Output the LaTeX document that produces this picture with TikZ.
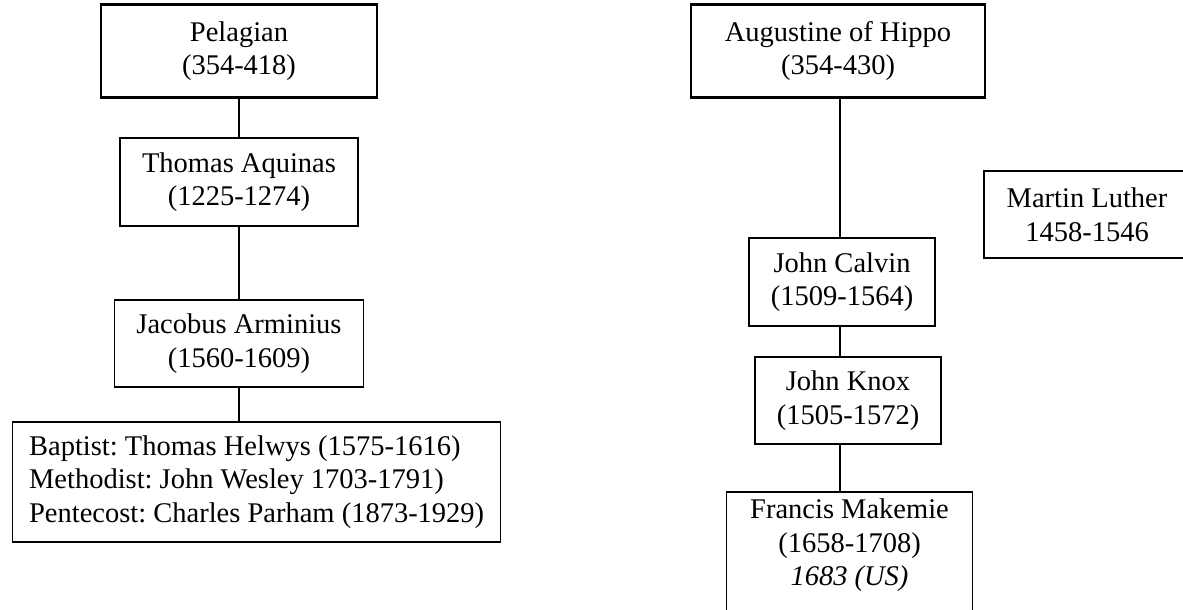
\documentclass[tikz,border=0pt]{standalone}
\usepackage{fontspec}
\setmainfont{Liberation Serif}
\begin{document}
\begin{tikzpicture}[x=1pt,y=-1pt,
  every node/.style={font=\frenchspacing\fontsize{28.5}{33.5}\selectfont, inner sep=0pt, align=center},
  box/.style={draw, line width=1.3pt},
  topbox/.style={draw, line width=2.8pt},
  conn/.style={line width=1.3pt}]
\useasboundingbox (0,0) rectangle (1183,610);
\clip (0,0) rectangle (1183,610);
% left column
\node[topbox, minimum width=276, minimum height=93] (pel) at (239,51) {Pelagian\\(354-418)};
\node[box, minimum width=238, minimum height=88] (tho) at (239,182) {Thomas Aquinas\\(1225-1274)};
\node[box, minimum width=249, minimum height=87] (jac) at (239,343.5) {Jacobus Arminius\\(1560-1609)};
\node[box, minimum width=488, minimum height=120, align=left, anchor=west] (bap) at (12,482)
  {Baptist: Thomas Helwys (1575-1616)\\Methodist: John Wesley 1703-1791)\\Pentecost: Charles Parham (1873-1929)};
\draw[conn] (pel.south) -- (pel.south |- tho.north);
\draw[conn] (tho.south) -- (tho.south |- jac.north);
\draw[conn] (jac.south) -- (jac.south |- bap.north);
% right column
\coordinate (rl) at (840,0);
\node[topbox, minimum width=294, minimum height=93] (aug) at (838,51) {Augustine of Hippo\\(354-430)};
\node[box, minimum width=186, minimum height=88] (cal) at (842,282) {John Calvin\\(1509-1564)};
\node[box, minimum width=186, minimum height=87] (kno) at (848,400.5) {John Knox\\(1505-1572)};
\node[minimum width=245, minimum height=106, anchor=north, inner ysep=0pt] (fra) at (849.5,492)
  {Francis Makemie\\(1658-1708)\\\textit{1683 (US)}};
\draw[box] ([yshift=-40pt]fra.south west) |- (fra.north east) -- ([yshift=-40pt]fra.south east);
\node[box, minimum width=206, minimum height=87] (lut) at (1087,214.5) {Martin Luther\\1458-1546};
\draw[conn] (rl |- aug.south) -- (rl |- cal.north);
\draw[conn] (rl |- cal.south) -- (rl |- kno.north);
\draw[conn] (rl |- kno.south) -- (rl |- fra.north);
\end{tikzpicture}
\end{document}
